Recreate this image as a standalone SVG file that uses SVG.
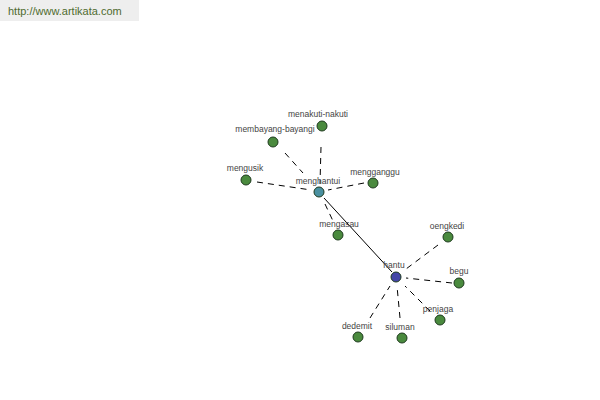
<svg xmlns="http://www.w3.org/2000/svg" width="600" height="400" viewBox="0 0 600 400">
<style>
text{font-family:"Liberation Sans",Arial,sans-serif;font-size:8.5px;fill:#444;text-anchor:middle}
.n{stroke:#1e3a1e;stroke-width:1}
.g{fill:#4a8a3e}
.d{stroke:#000;stroke-width:1;stroke-dasharray:6,5;fill:none}
</style>
<rect width="600" height="400" fill="#fff"/>
<g id="header"><rect x="0" y="0" width="139" height="21" fill="#eeeeee"/><text x="8" y="15" style="font-size:11px;fill:#4f6b2f;text-anchor:start">http://www.artikata.com</text></g>
<g id="connectors">
<line x1="324" y1="198" x2="392" y2="272" stroke="#000" stroke-width="1"/>
<line class="d" x1="321" y1="147" x2="320" y2="184"/>
<line class="d" x1="285" y1="153" x2="303" y2="173"/>
<line class="d" x1="257" y1="182" x2="311" y2="190"/>
<line class="d" x1="364" y1="183" x2="328" y2="190"/>
<line class="d" x1="325" y1="204" x2="333" y2="221"/>
<line class="d" x1="438" y1="245" x2="406" y2="269"/>
<line class="d" x1="452" y1="283" x2="406" y2="278"/>
<line class="d" x1="430" y1="311" x2="405" y2="286"/>
<line class="d" x1="400" y1="318" x2="397" y2="286"/>
<line class="d" x1="370" y1="318" x2="390" y2="286"/>
</g>
<g id="menghantui"><circle class="n" cx="319" cy="192" r="5" fill="#4a90a0"/><text x="318" y="184">menghantui</text></g>
<g id="menakuti-nakuti"><circle class="n g" cx="322" cy="126" r="5"/><text x="318" y="117">menakuti-nakuti</text></g>
<g id="membayang-bayangi"><circle class="n g" cx="273" cy="142" r="5"/><text x="275" y="132">membayang-bayangi</text></g>
<g id="mengusik"><circle class="n g" cx="246" cy="180" r="5"/><text x="245" y="171">mengusik</text></g>
<g id="mengganggu"><circle class="n g" cx="373" cy="183" r="5"/><text x="375" y="175">mengganggu</text></g>
<g id="mengasau"><circle class="n g" cx="338" cy="235" r="5"/><text x="339" y="227">mengasau</text></g>
<g id="hantu"><circle class="n" cx="396" cy="277" r="5" fill="#4446a8"/><text x="394" y="268">hantu</text></g>
<g id="oengkedi"><circle class="n g" cx="448" cy="237" r="5"/><text x="447" y="229">oengkedi</text></g>
<g id="begu"><circle class="n g" cx="459" cy="283" r="5"/><text x="459" y="274">begu</text></g>
<g id="penjaga"><circle class="n g" cx="440" cy="320" r="5"/><text x="438" y="312">penjaga</text></g>
<g id="dedemit"><circle class="n g" cx="358" cy="337" r="5"/><text x="357" y="329">dedemit</text></g>
<g id="siluman"><circle class="n g" cx="402" cy="338" r="5"/><text x="400" y="330">siluman</text></g>
</svg>
